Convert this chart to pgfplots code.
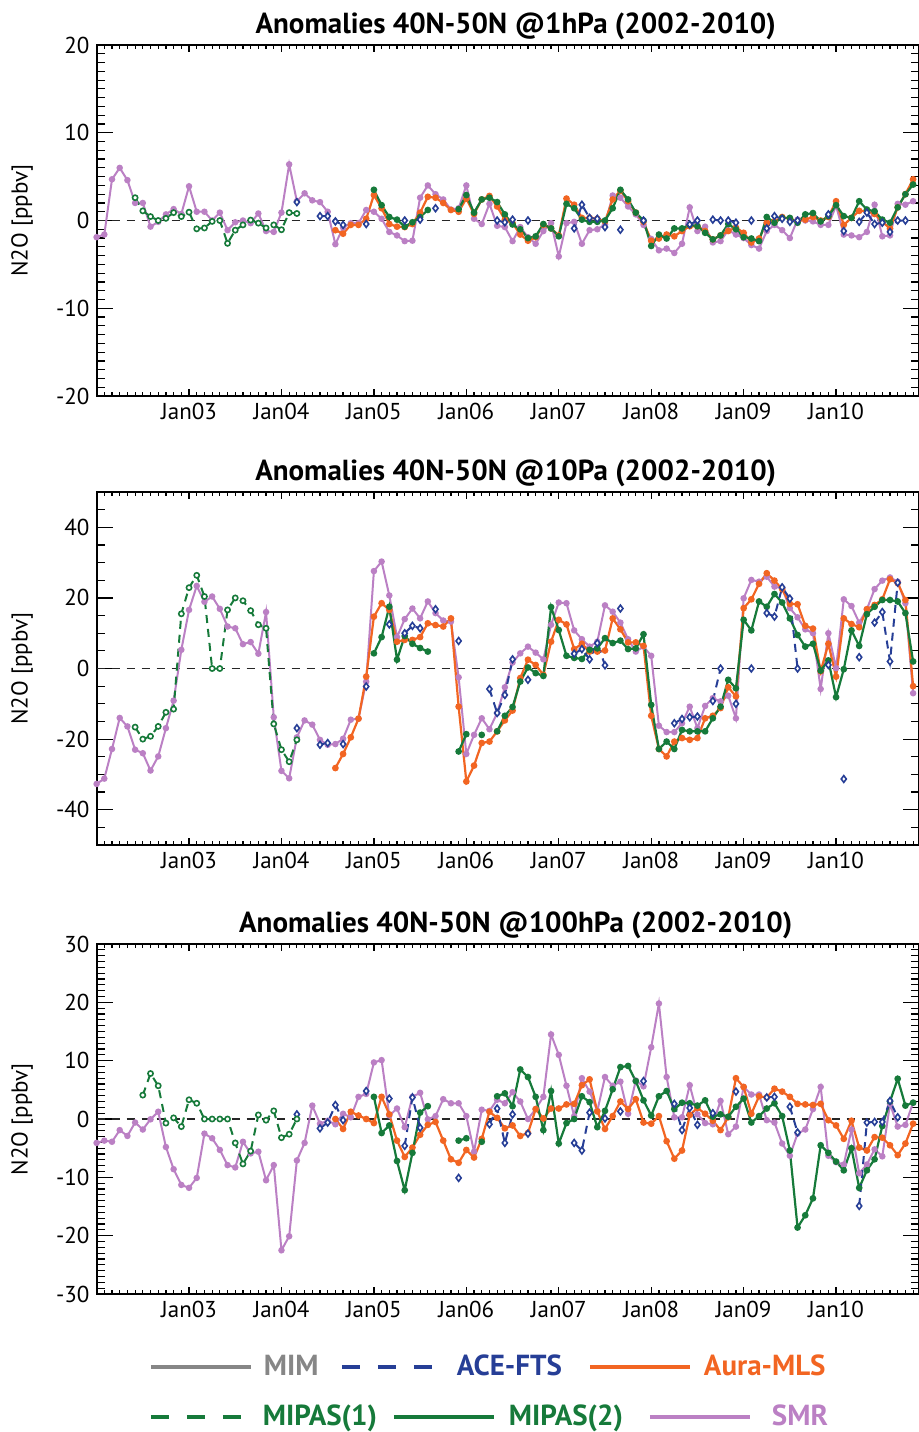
\documentclass[border=0pt]{standalone}
\usepackage{fontspec}
\setmainfont{PT Sans}
\usepackage{pgfplots}
\pgfplotsset{compat=1.18}
\definecolor{smr}{RGB}{187,128,196}
\definecolor{mls}{RGB}{242,101,34}
\definecolor{mip}{RGB}{22,122,58}
\definecolor{ace}{RGB}{38,62,150}
\definecolor{mim}{RGB}{134,134,134}
\pgfplotsset{
  basefr/.style={scale only axis, width=410.95pt, xmin=0, xmax=106.7,
    tick align=inside, axis line style={line width=0.9pt},
    every tick/.style={black, line width=0.6pt}},
  paneA/.style={basefr, xtick=\empty, unbounded coords=jump,
    major tick length=8pt, minor tick length=4pt,
    yticklabel style={font=\fontsize{11.5}{13}\selectfont, xshift=0pt},
    ylabel={N2O [ppbv]},
    every axis y label/.style={at={(axis description cs:-0.0908,0.5)}, rotate=90, anchor=center, font=\fontsize{11.5}{13}\selectfont},
    title style={at={(axis description cs:0.510,1)}, anchor=base, yshift=0pt, font=\bfseries\fontsize{14.5}{16}\selectfont}},
  paneB/.style={basefr, ytick=\empty, xtick={12,24,...,96},
    xticklabels={Jan03,Jan04,Jan05,Jan06,Jan07,Jan08,Jan09,Jan10},
    minor xtick={1,...,106}, major tick length=3.5pt, minor tick length=1.8pt,
    xticklabel style={font=\fontsize{11.5}{13}\selectfont}},
  smrl/.style={smr, line width=1pt, mark=*, mark size=1.1pt, mark options={solid}},
  mlsl/.style={mls, line width=1.1pt, mark=*, mark size=1.1pt, mark options={solid}},
  mip2l/.style={mip, line width=1.1pt, mark=*, mark size=1.1pt, mark options={solid}},
  mip1l/.style={mip, line width=1pt, dash pattern=on 4pt off 3pt, mark=*, mark size=1.3pt, mark options={solid, fill=white, line width=0.8pt}},
  acel/.style={ace, line width=1pt, dash pattern=on 4pt off 3pt, mark=diamond*, mark size=1.7pt, mark options={solid, fill=white, line width=0.8pt}},
  zerol/.style={black!85, line width=0.8pt, dash pattern=on 4pt off 3.5pt},
  legrow/.style={legend columns=-1,
    legend image code/.code={\draw[##1] (0pt,0pt) -- (50pt,0pt);},
    legend style={draw=none, fill=none, inner sep=0pt, outer sep=0pt, anchor=west,
      nodes={inner sep=0pt}, font=\bfseries\fontsize{14.5}{17}\selectfont,
      /tikz/every odd column/.append style={column sep=5pt},
      /tikz/every even column/.append style={column sep=0pt}},
    legend cell align=left},
}
\begin{document}
\begin{tikzpicture}
\useasboundingbox (0pt,0pt) rectangle (459.5pt,-716pt);
% ---------------- Panel 1 ----------------
\begin{axis}[paneB, at={(48.3pt,-198pt)}, anchor=south west, height=175.5pt, ymin=-20, ymax=20]
\end{axis}
\begin{axis}[paneA, at={(48.3pt,-198pt)}, anchor=south west, height=175.5pt, ymin=-20, ymax=20,
  ytick={-20,-10,0,10,20}, yticklabels={-20,-10,0,10,20}, minor ytick={-19,...,19},
  title={Anomalies 40N-50N @1hPa (2002-2010)}]
\addplot[zerol] coordinates {(0,0) (107,0)};
\addplot[smrl] coordinates {(0,-1.9) (1,-1.6) (2,4.7) (3,6.0) (4,4.6) (5,2.0) (6,2.0) (7,-0.7) (8,-0.15) (9,0.7) (10,1.3) (11,0.75) (12,3.9) (13,1.0) (14,1.0) (15,0) (16,0.9) (17,-1.1) (18,-0.2) (19,0) (20,-0.3) (21,0.8) (22,-1.2) (23,-1.3) (24,0.9) (25,6.4) (26,2.2) (27,3.1) (28,2.3) (29,2.1) (30,1.0) (31,-2.7) (32,-0.8) (33,-0.3) (34,-0.3) (35,1.2) (36,1.0) (37,0.2) (38,-1.3) (39,-1.7) (40,-2.35) (41,-2.3) (42,2.6) (43,4.0) (44,3.0) (45,2.4) (46,1.25) (47,1.4) (48,4.0) (49,0.2) (50,-0.4) (51,1.9) (52,-0.6) (53,-0.75) (54,-2.35) (55,-0.75) (56,-1.9) (57,-2.65) (58,-1.2) (59,-0.3) (60,-4.1) (61,-0.3) (62,-0.15) (63,-2.65) (64,-1.1) (65,-1.0) (66,-0.45) (67,2.85) (68,2.6) (69,1.6) (70,0.7) (71,-0.5) (72,-2.1) (73,-3.4) (74,-3.2) (75,-3.7) (76,-2.65) (77,1.5) (78,-1.2) (79,-0.7) (80,-2.5) (81,-2.35) (82,-1.1) (83,-1.6) (84,-2.0) (85,-2.8) (86,-3.2) (87,-1.2) (88,-0.5) (89,-1.1) (90,-2.0) (91,0.1) (92,0) (93,-0.1) (94,-0.5) (95,-0.5) (96,1.7) (97,-1.6) (98,-1.7) (99,-1.9) (100,-1.3) (101,1.8) (102,-1.8) (103,-1.7) (104,1.9) (105,1.8) (106,2.2)};
\addplot[mlsl] coordinates {(31,-1.1) (32,-1.5) (33,-0.5) (34,-0.5) (35,0.2) (36,2.9) (37,1.4) (38,-0.4) (39,-0.7) (40,-0.75) (41,-0.4) (42,0.9) (43,2.7) (44,2.6) (45,2.0) (46,1.2) (47,1.0) (48,2.5) (49,0.75) (50,2.4) (51,2.8) (52,1.6) (53,0.1) (54,-0.3) (55,-1.6) (56,-2.3) (57,-1.9) (58,-0.5) (59,-0.9) (60,-1.7) (61,2.5) (62,1.8) (63,0.3) (64,0.3) (65,0.2) (66,-0.1) (67,2.4) (68,3.4) (69,2.2) (70,0.9) (71,-0.15) (72,-2.3) (73,-2.05) (74,-1.6) (75,-1.8) (76,-1.2) (77,-0.65) (78,-0.65) (79,-1.2) (80,-2.15) (81,-1.7) (82,-1.2) (83,-0.8) (84,-1.4) (85,-2.5) (86,-2.05) (87,-0.25) (88,-0.1) (89,0.4) (90,0.2) (91,-0.1) (92,0.1) (93,0.4) (94,0) (95,0.4) (96,2.2) (97,-0.5) (98,0.3) (99,1.1) (100,1.05) (101,0.75) (102,-0.15) (103,-0.9) (104,1.5) (105,3.0) (106,4.7)};
\addplot[mip2l] coordinates {(36,3.5) (37,1.75) (38,0.4) (39,0.1) (40,-0.7) (41,-0.2) (42,0.4) (43,1.2) (44,nan) (47,1.3) (48,2.9) (49,0.9) (50,2.4) (51,2.6) (52,2.1) (53,0.7) (54,-0.45) (55,-1.0) (56,-2.0) (57,-1.8) (58,-0.4) (59,-0.9) (60,-1.8) (61,1.9) (62,1.4) (63,0.1) (64,-0.15) (65,-0.15) (66,0) (67,1.4) (68,3.5) (69,2.4) (70,0.9) (71,0) (72,-2.9) (73,-1.6) (74,-2.05) (75,-0.9) (76,-0.9) (77,-0.5) (78,-0.65) (79,-1.4) (80,-2.15) (81,-1.7) (82,-0.4) (83,-1.0) (84,-1.9) (85,-2.05) (86,-2.35) (87,0.4) (88,-0.25) (89,0.3) (90,0.3) (91,-0.25) (92,0.7) (93,0.85) (94,-0.1) (95,0.5) (96,1.75) (97,0.5) (98,0.3) (99,2.2) (100,1.25) (101,1.05) (102,0.1) (103,-0.25) (104,1.5) (105,3.0) (106,4.1)};
\addplot[acel] coordinates {(26,2.1) (27,nan) (29,0.5) (30,0.5) (31,-0.1) (32,-0.5) (33,nan) (35,-0.4) (36,nan) (40,0) (41,nan) (42,0.1) (43,nan) (44,1.4) (45,nan) (52,0) (53,-0.2) (54,0.1) (55,nan) (56,0) (57,nan) (62,-0.9) (63,1.8) (64,0.3) (65,0.2) (66,-0.75) (67,nan) (68,-1.05) (69,nan) (71,0) (72,nan) (77,-0.45) (78,0) (79,nan) (80,0.1) (81,0) (82,0) (83,-0.25) (84,nan) (85,0) (86,nan) (87,-0.9) (88,0.5) (89,0.2) (90,-0.15) (91,0) (92,nan) (95,0.7) (96,nan) (97,-1.2) (98,nan) (99,-0.15) (100,0.9) (101,-0.4) (102,-0.25) (103,-1.3) (104,0) (105,0)};
\addplot[mip1l] coordinates {(5,2.6) (6,1.1) (7,0.45) (8,0) (9,0.25) (10,0.9) (11,0.45) (12,0.95) (13,-0.95) (14,-0.85) (15,-0.1) (16,0) (17,-2.6) (18,-1.1) (19,-0.5) (20,0.05) (21,-0.3) (22,-0.85) (23,-0.5) (24,-1.05) (25,0.9) (26,0.8)};
\end{axis}
% ---------------- Panel 2 ----------------
\begin{axis}[paneB, at={(48.3pt,-422.5pt)}, anchor=south west, height=176.5pt, ymin=-50, ymax=50, legrow,
  legend style={at={(axis description cs:0.0637,-1.6204)}}]
\addlegendimage{mip, line width=2pt, dash pattern=on 9pt off 9pt}
\addlegendimage{mip, line width=2pt}
\addlegendimage{smr, line width=2pt}
\legend{\makebox[64.5pt][l]{\textcolor{mip}{MIPAS(1)}},\makebox[71pt][l]{\hspace{1.5pt}\textcolor{mip}{MIPAS(2)}},\hspace{5pt}\textcolor{smr}{SMR}}
\end{axis}
\begin{axis}[paneA, at={(48.3pt,-422.5pt)}, anchor=south west, height=176.5pt, ymin=-50, ymax=50,
  ytick={-40,-20,0,20,40}, yticklabels={-40,-20,0,20,40}, minor ytick={-50,-45,...,50},
  title={Anomalies 40N-50N @10Pa (2002-2010)}]
\addplot[zerol] coordinates {(0,0) (107,0)};
\addplot[smrl] coordinates {(0,-32.7) (1,-31.2) (2,-22.8) (3,-14) (4,-16.4) (5,-23) (6,-24) (7,-28.9) (8,-24.9) (9,-16.9) (10,-9.1) (11,5.3) (12,16.6) (13,23.4) (14,18.9) (15,20.4) (16,16.9) (17,11.9) (18,11.4) (19,6.9) (20,7.5) (21,4.2) (22,16.0) (23,-13.8) (24,-29) (25,-31.1) (26,-19.5) (27,-14.7) (28,-15.9) (29,-20.2) (30,-21.6) (31,-21.4) (32,-19.9) (33,-14.5) (34,-14.2) (35,-3.7) (36,27.6) (37,30.3) (38,20.7) (39,8.9) (40,14) (41,17) (42,14.2) (43,19) (44,15.7) (45,13.6) (46,13.3) (47,-2.5) (48,-24.2) (49,-18.8) (50,-14.1) (51,-17.2) (52,-12.6) (53,-5.3) (54,1.7) (55,4.3) (56,6.2) (57,4.5) (58,2.6) (59,12.4) (60,18.7) (61,18.5) (62,10.8) (63,8.3) (64,6.2) (65,7.6) (66,17.9) (67,16.1) (68,13.0) (69,8.3) (70,4.8) (71,6.2) (72,3.6) (73,-16.2) (74,-18.0) (75,-18.0) (76,-15.5) (77,-10.8) (78,-16.9) (79,-10.6) (80,-8.4) (81,-9.3) (82,-7.7) (83,-14.1) (84,19.9) (85,25.1) (86,24.6) (87,26.0) (88,23.2) (89,22.7) (90,17.1) (91,14.5) (92,11.1) (93,10.0) (94,-5.8) (95,10.0) (96,0.1) (97,19.6) (98,17.7) (99,13.0) (100,16.8) (101,22.5) (102,24.9) (103,25.8) (104,24.6) (105,18.5) (106,-7)};
\addplot[mlsl] coordinates {(31,-28.2) (32,-24.2) (33,-19.5) (34,-14.2) (35,-2.3) (36,14.7) (37,18.5) (38,16.6) (39,7.6) (40,8.1) (41,8.1) (42,8.9) (43,12.8) (44,12.3) (45,11.9) (46,14.2) (47,-10.8) (48,-32) (49,-27.5) (50,-21.1) (51,-20.7) (52,-17.8) (53,-14.7) (54,-11.9) (55,-2.7) (56,2.5) (57,1.0) (58,-1.8) (59,7.6) (60,13.8) (61,12.5) (62,5.5) (63,7.0) (64,4.8) (65,4.8) (66,5.1) (67,14.2) (68,11.1) (69,7.4) (70,7.4) (71,6.4) (72,-13.4) (73,-22.8) (74,-24.9) (75,-20.7) (76,-19.7) (77,-20.2) (78,-19.7) (79,-14.1) (80,-13.4) (81,-11.2) (82,-5.3) (83,-7.9) (84,17.1) (85,19.6) (86,24.0) (87,27.0) (88,24.9) (89,22.5) (90,18.3) (91,18.2) (92,12.1) (93,11.3) (94,-0.8) (95,7.0) (96,-2.3) (97,14.2) (98,12.6) (99,11.7) (100,16.8) (101,18.0) (102,19.6) (103,25.3) (104,24.2) (105,19.4) (106,-5)};
\addplot[mip2l] coordinates {(36,4.3) (37,8.9) (38,17.5) (39,2.5) (40,9.2) (41,7) (42,5.8) (43,4.8) (44,nan) (47,-23.5) (48,-18.6) (49,nan) (50,-18.8) (51,nan) (52,-17.8) (53,-13.4) (54,-10.9) (55,-3.7) (56,0.3) (57,-1.3) (58,-2.1) (59,17.4) (60,10.9) (61,3.6) (62,3.0) (63,2.7) (64,5.3) (65,5.7) (66,8.6) (67,7.2) (68,7.9) (69,5.5) (70,5.7) (71,9.7) (72,-10.3) (73,-22.8) (74,-20.7) (75,-22.8) (76,-17.4) (77,-17.8) (78,-17.8) (79,-17.8) (80,-14.1) (81,-10.8) (82,-3.2) (83,-5.6) (84,13.8) (85,10.8) (86,19.0) (87,17.5) (88,21.1) (89,18.7) (90,14.2) (91,9.5) (92,6.2) (93,7.0) (94,-0.6) (95,2.3) (96,-8.1) (97,-0.2) (98,10.8) (99,6.4) (100,15.4) (101,17.5) (102,19.4) (103,19.4) (104,19.0) (105,15.7) (106,2.0)};
\addplot[acel] coordinates {(26,-16.9) (27,nan) (29,-21.6) (30,-21.1) (31,nan) (32,-21.4) (33,nan) (35,-5.1) (36,nan) (38,12.5) (39,nan) (40,10) (41,12.1) (42,11.4) (43,nan) (44,16.8) (45,nan) (47,7.8) (48,nan) (51,-5.8) (52,-12.6) (53,-7.5) (54,2.6) (55,nan) (56,-3.2) (57,nan) (62,4.2) (63,5.5) (64,2.6) (65,7.2) (66,0.9) (67,nan) (68,17.0) (69,nan) (75,-15.5) (76,-14.3) (77,-13.8) (78,-13.6) (79,nan) (80,-9.2) (81,0) (82,nan) (83,-10.0) (84,nan) (85,0) (86,nan) (87,15.7) (88,14.7) (89,23.0) (90,19.8) (91,0) (92,nan) (95,1.0) (96,nan) (97,-31.3) (98,nan) (99,3.2) (100,nan) (101,13.0) (102,16.0) (103,2.0) (104,24.3)};
\addplot[mip1l] coordinates {(5,-16.6) (6,-20) (7,-19.2) (8,-16.4) (9,-12.4) (10,-11.5) (11,15.5) (12,22.9) (13,26.4) (14,20.4) (15,0) (16,0) (17,16.6) (18,20) (19,19.2) (20,16.4) (21,12.4) (22,11.4) (23,-15.7) (24,-23) (25,-26.4) (26,-20.2)};
\end{axis}
% ---------------- Panel 3 ----------------
\begin{axis}[paneB, at={(48.3pt,-647pt)}, anchor=south west, height=175pt, ymin=-30, ymax=30, legrow,
  legend style={at={(axis description cs:0.0637,-0.2086)}}]
\addlegendimage{mim, line width=2pt}
\addlegendimage{ace, line width=2pt, dash pattern=on 9pt off 9pt}
\addlegendimage{mls, line width=2pt}
\legend{\makebox[38.5pt][l]{\hspace{0.5pt}\textcolor{mim}{MIM}},\makebox[67pt][l]{\hspace{1.5pt}\textcolor{ace}{ACE-FTS}},\hspace{1pt}\textcolor{mls}{Aura-MLS}}
\end{axis}
\begin{axis}[paneA, at={(48.3pt,-647pt)}, anchor=south west, height=175pt, ymin=-30, ymax=30,
  ytick={-30,-20,-10,0,10,20,30}, yticklabels={-30,-20,-10,0,10,20,30}, minor ytick={-29,...,29},
  title={Anomalies 40N-50N @100hPa (2002-2010)}]
\addplot[zerol] coordinates {(0,0) (107,0)};
\addplot[smrl] coordinates {(0,-4.1) (1,-3.7) (2,-3.9) (3,-1.9) (4,-2.9) (5,-0.6) (6,-1.8) (7,-0.05) (8,1.25) (9,-4.8) (10,-8.6) (11,-11.3) (12,-11.8) (13,-10.1) (14,-2.5) (15,-3.3) (16,-5.3) (17,-7.9) (18,-8.3) (19,-3.9) (20,-5.9) (21,-5.6) (22,-10.5) (23,-7.9) (24,-22.5) (25,-20.1) (26,-7.1) (27,-4.1) (28,2.3) (29,-0.8) (30,-0.3) (31,-0.9) (32,0.9) (33,0.3) (34,3.8) (35,4.3) (36,9.7) (37,10.1) (38,0.6) (39,1.8) (40,-1.4) (41,3.8) (42,4.5) (43,-0.05) (44,0.5) (45,3.4) (46,2.7) (47,2.7) (48,0.5) (49,-5.6) (50,1.6) (51,1.4) (52,3.3) (53,2.7) (54,4.6) (55,3.0) (56,0) (57,1.7) (58,3.8) (59,14.5) (60,11.0) (61,5.7) (62,0.5) (63,7.0) (64,4.7) (65,1.4) (66,7.2) (67,5.7) (68,6.4) (69,0.9) (70,6.6) (71,5.6) (72,12.3) (73,19.8) (74,7.2) (75,0.3) (76,0.3) (77,5.8) (78,0.8) (79,-0.7) (80,-0.9) (81,3.1) (82,-2.6) (83,-1.3) (84,5.5) (85,4.2) (86,4.2) (87,-0.2) (88,-0.6) (89,-4.2) (90,-6.3) (91,-2.5) (92,-1.8) (93,1.7) (94,5.5) (95,-6.3) (96,-7.4) (97,-7.8) (98,-1.8) (99,-9.3) (100,-7.8) (101,-5.2) (102,-6.4) (103,2.6) (104,-1.3) (105,-1.0) (106,2.8)};
\addplot[mlsl] coordinates {(31,0) (32,-1.7) (33,1.25) (34,0.6) (35,0) (36,-0.7) (37,3.8) (38,0.8) (39,-3.7) (40,-6.5) (41,-4.9) (42,-2.7) (43,-1.0) (44,-0.5) (45,-3.7) (46,-6.9) (47,-7.5) (48,-5.3) (49,-6.6) (50,-3.4) (51,1.25) (52,0.2) (53,-1.6) (54,-1.1) (55,-2.9) (56,-2.4) (57,1.7) (58,0.1) (59,1.8) (60,1.8) (61,2.5) (62,2.6) (63,5.8) (64,6.8) (65,1.3) (66,-1.7) (67,0.5) (68,3.0) (69,1.7) (70,3.4) (71,-0.6) (72,-0.8) (73,0.5) (74,-3.8) (75,-6.8) (76,-5.4) (77,0.7) (78,1.9) (79,0.9) (80,-0.3) (81,-1.9) (82,0.3) (83,7.0) (84,5.5) (85,0.9) (86,3.9) (87,3.7) (88,5.2) (89,4.7) (90,3.8) (91,2.6) (92,2.5) (93,2.4) (94,2.6) (95,-0.2) (96,-1.1) (97,-3.4) (98,-0.3) (99,-4.9) (100,-5.4) (101,-3.1) (102,-3.2) (103,-4.5) (104,-6.2) (105,-4.2) (106,-0.8)};
\addplot[mip2l] coordinates {(36,3.8) (37,-2.4) (38,-1.1) (39,-7.2) (40,-12.2) (41,-5.8) (42,1.1) (43,2.2) (44,nan) (47,-3.7) (48,-3.3) (49,nan) (50,-3.9) (51,nan) (52,3.9) (53,4.4) (54,2.2) (55,8.5) (56,7.2) (57,3.8) (58,-1.9) (59,4.8) (60,-4.2) (61,-0.7) (62,0) (63,3.9) (64,2.9) (65,-1.4) (66,1.4) (67,5.1) (68,8.9) (69,9.1) (70,6.5) (71,3.2) (72,0.6) (73,3.9) (74,4.8) (75,1.7) (76,2.8) (77,2.7) (78,2.3) (79,3.2) (80,0.4) (81,0.8) (82,0.4) (83,2.1) (84,3.5) (85,-0.6) (86,0.5) (87,1.8) (88,2.7) (89,0.5) (90,-5.4) (91,-18.6) (92,-16.5) (93,-13.6) (94,-4.5) (95,-5.8) (96,-7.3) (97,-8.8) (98,-5.0) (99,-11.8) (100,-8.8) (101,-6.9) (102,-1.2) (103,3.0) (104,6.9) (105,2.3) (106,2.8)};
\addplot[acel] coordinates {(26,0.8) (27,nan) (29,-1.6) (30,-0.6) (31,2.4) (32,-0.2) (33,nan) (35,4.8) (36,nan) (38,3.5) (39,nan) (40,-4.6) (41,3.7) (42,-1.5) (43,nan) (47,-10.1) (48,nan) (51,-0.9) (52,1.8) (53,-4.1) (54,0.8) (55,nan) (56,-2.5) (57,nan) (62,-4.1) (63,-5.4) (64,1.1) (65,nan) (66,0.1) (67,nan) (68,1.3) (69,nan) (71,6.5) (72,nan) (75,2.6) (76,-1.9) (77,1.9) (78,-1.0) (79,nan) (80,1.0) (81,nan) (83,4.7) (84,nan) (87,3.7) (88,3.8) (89,nan) (90,2.1) (91,-2.3) (92,nan) (99,-14.9) (100,-0.6) (101,-0.5) (102,-0.5) (103,3.1) (104,0.3)};
\addplot[mip1l] coordinates {(6,4.1) (7,7.8) (8,5.7) (9,-0.7) (10,0.2) (11,-1.3) (12,3.3) (13,2.7) (14,0) (15,0) (16,0) (17,0) (18,-4.1) (19,-7.7) (20,-5.5) (21,0.7) (22,-0.2) (23,1.4) (24,-3.2) (25,-2.6) (26,0)};
\end{axis}
\end{tikzpicture}
\end{document}
